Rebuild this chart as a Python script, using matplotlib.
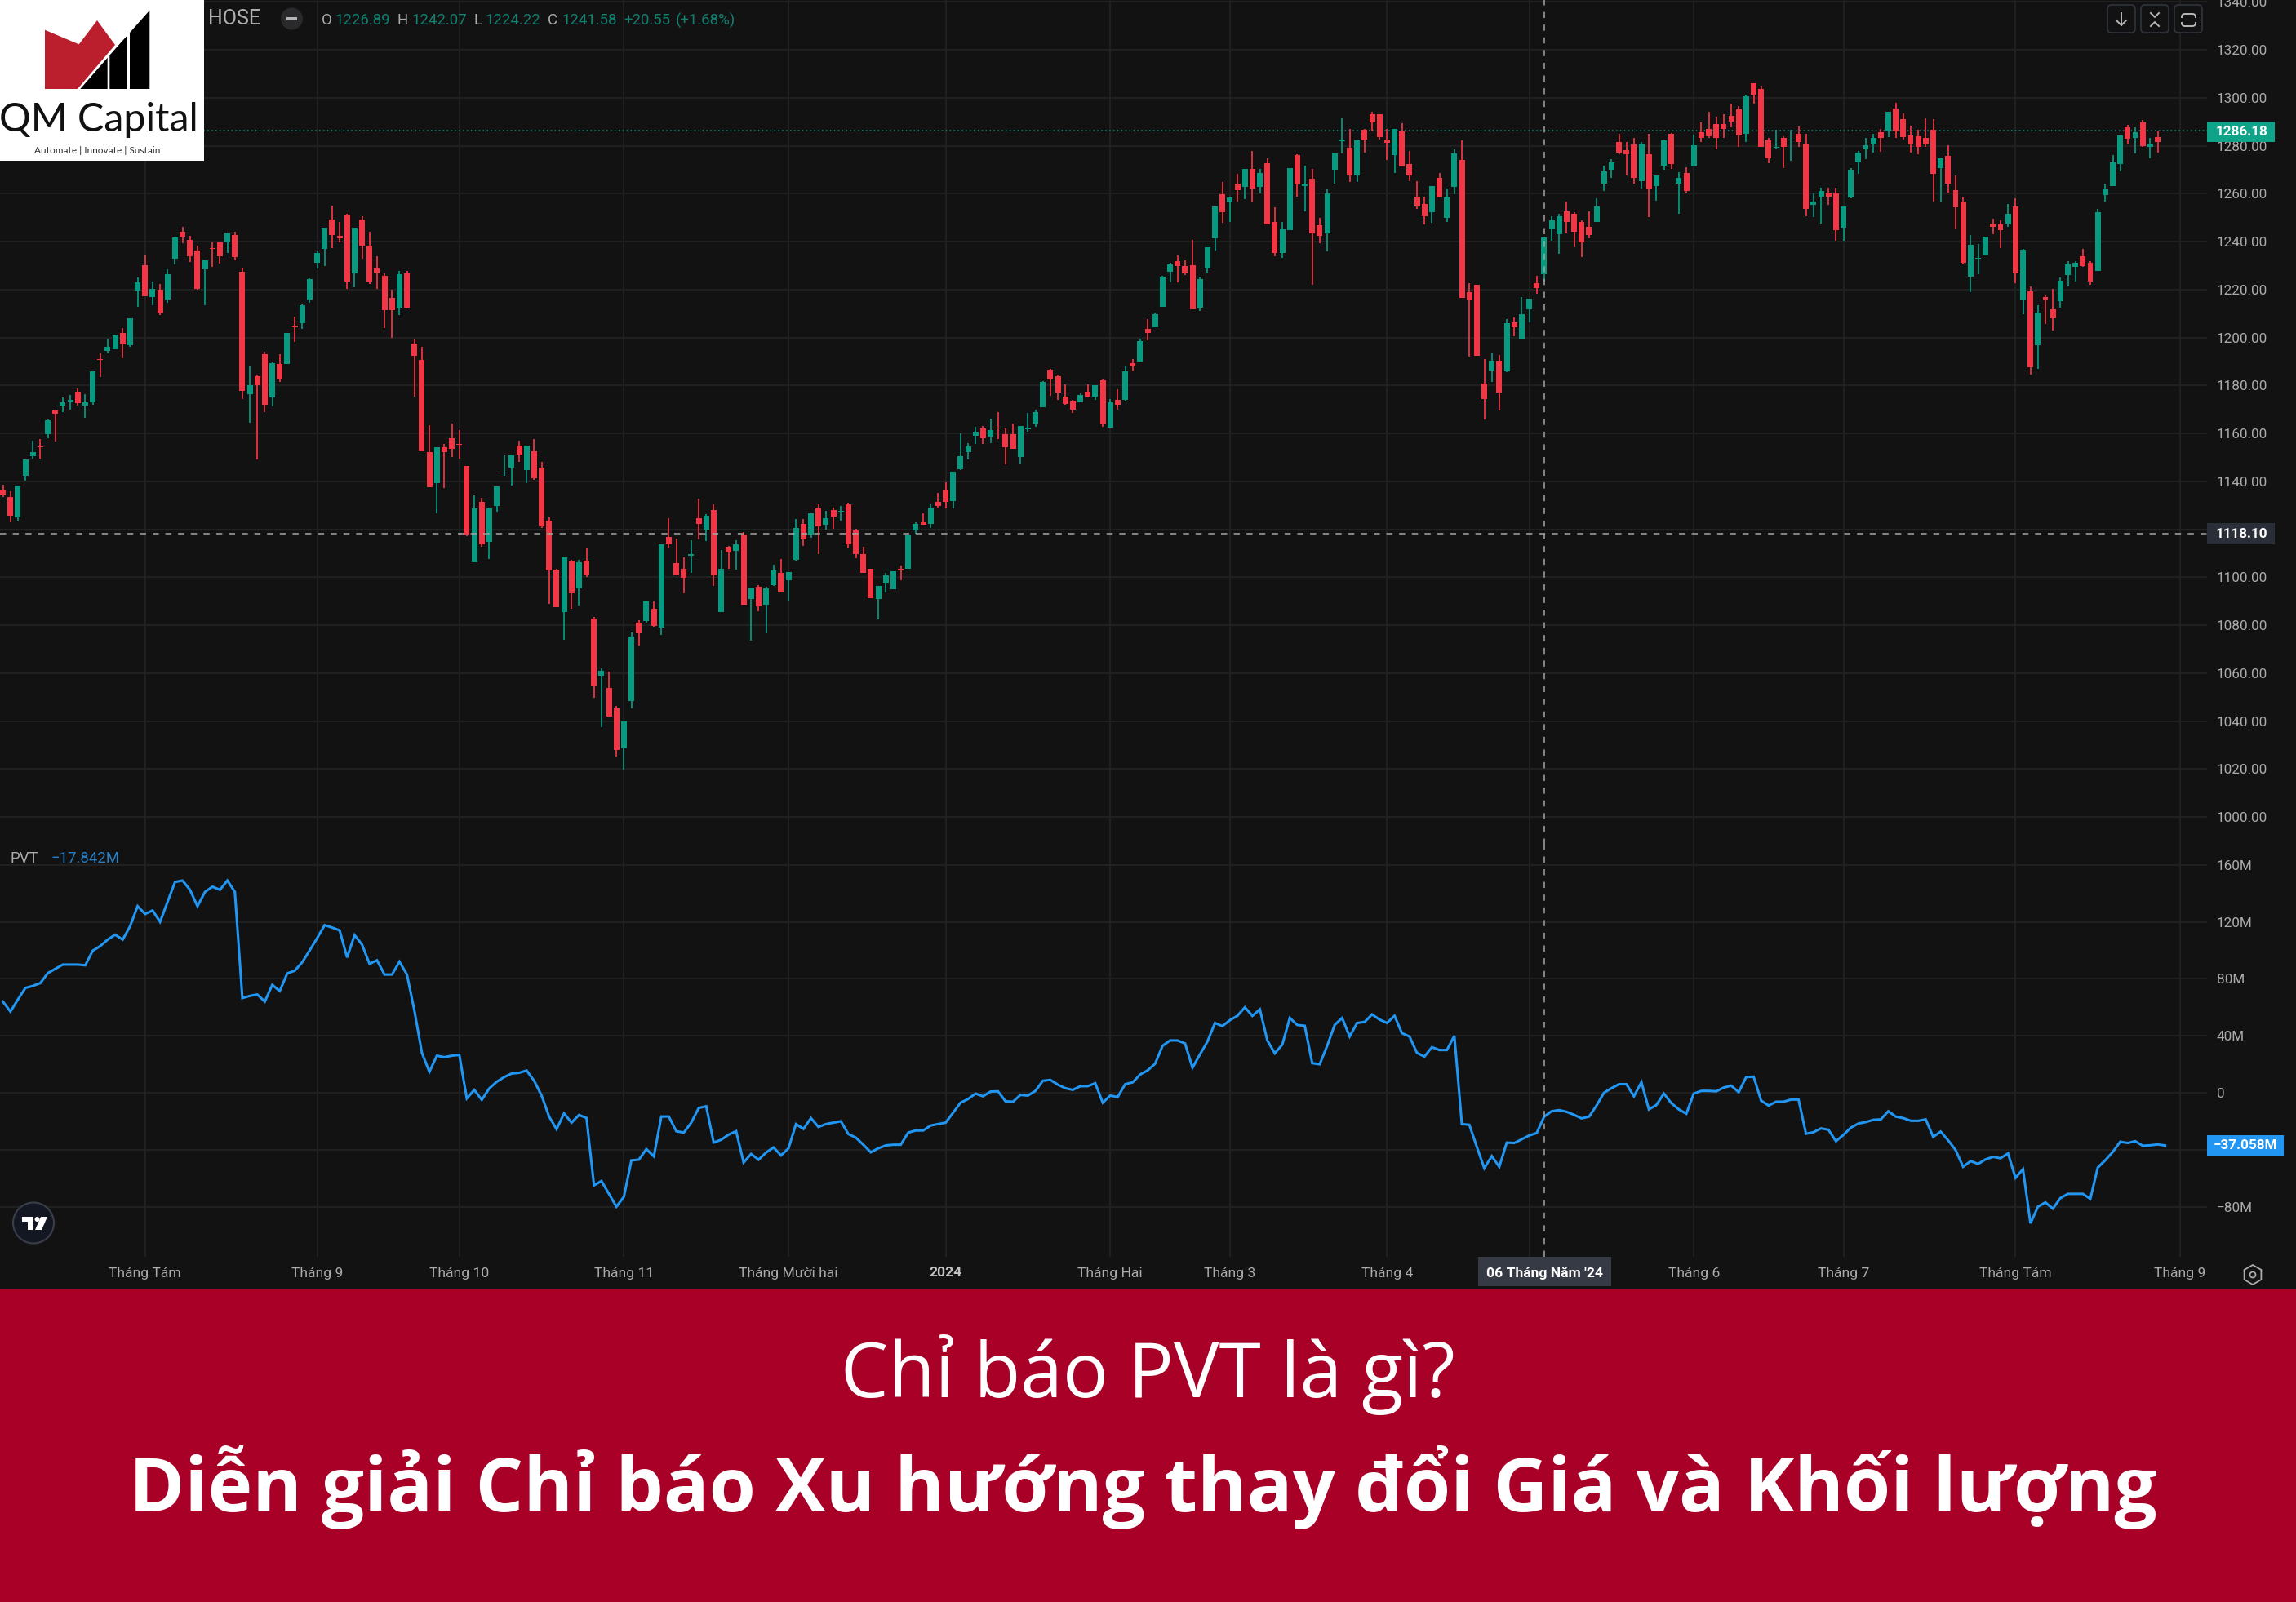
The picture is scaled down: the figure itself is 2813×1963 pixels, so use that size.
import numpy as np
import matplotlib
matplotlib.use('Agg')
import matplotlib.pyplot as plt
from matplotlib.patches import Circle, FancyBboxPatch, Polygon, Rectangle, RegularPolygon

# candles, one value per session
opens = [1136.5,1133.6,1124.9,1142.3,1150.5,1154.6,1159.7,1169.5,1171.6,1173.1,
         1177.5,1171.6,1173.1,1191,1194.4,1195,1201.9,1196.9,1219.5,1230.3,
         1217,1219.9,1215.9,1232.9,1244.2,1240.8,1236.3,1228.5,1237.3,1239.8,
         1239.8,1242.7,1227.3,1176.5,1183.9,1193,1175,1188.9,1189,1204.9,
         1206,1215.9,1231.3,1236.8,1249.2,1242.3,1250.8,1226.9,1249.2,1238.3,
         1228.9,1225.8,1216.4,1212.5,1226.7,1197.5,1190.5,1152.1,1139.3,1154.1,
         1158.1,1155.6,1146.3,1106.4,1131.6,1114.8,1129.8,1143.2,1145.7,1155.1,
         1144.7,1152.6,1145.6,1123.7,1103.3,1085.4,1106.8,1095.4,1106.8,1082.8,
         1058.9,1053.9,1045.5,1028.6,1048.5,1081.2,1081.8,1086.8,1079,1116.8,
         1105.8,1103.7,1108.9,1124.7,1119.8,1128.1,1085.4,1112.7,1111,1117.8,
         1090.9,1095.9,1088.4,1096.8,1101.8,1098.9,1107.3,1122.1,1117.8,1128.7,
         1121.8,1128.1,1127.3,1130.3,1119.7,1109.7,1103.7,1090.9,1097.9,1094.9,
         1103.4,1103.7,1119.7,1123.1,1122.2,1131.6,1136.6,1131.7,1145,1152.2,
         1159.1,1162.1,1158.7,1162.5,1159.6,1159.6,1150.1,1161.6,1164.1,1171,
         1186.5,1183.8,1175.4,1173.5,1173,1177.4,1175.4,1182,1162.5,1174,
         1174,1189.4,1190,1203.5,1204.4,1212.9,1227.3,1231.9,1229.7,1230.3,
         1212.3,1228.8,1241.4,1259.8,1256.4,1264.2,1262.7,1270.2,1262.7,1272.7,
         1248.3,1235.3,1244.8,1276.2,1263.3,1266.1,1246.7,1243.3,1269.8,1281.8,
         1279.2,1267.7,1286.6,1293.2,1293.2,1282.7,1276.2,1285.8,1272.2,1258.8,
         1255.8,1252.3,1266.7,1249.8,1262.7,1274.2,1218.8,1221.9,1180.9,1186.3,
         1190.3,1185.8,1206.2,1199.3,1211.9,1222.7,1226.3,1245.3,1243.2,1252.6,
         1251.7,1248.2,1246.2,1248.2,1264.2,1270.1,1281.6,1278.1,1280.6,1265.2,
         1276.6,1263.2,1271.7,1285.1,1264.2,1268.6,1271.2,1285.6,1287,1289.1,
         1289.1,1292.5,1295.1,1284.8,1306,1303.5,1282.1,1279.1,1283.1,1282.1,
         1285,1281,1255.2,1258.7,1260.6,1260,1245.8,1258.4,1273.2,1278.6,
         1280.7,1285.6,1285.9,1295.5,1291.1,1284.4,1284,1283.1,1286.6,1270.7,
         1275.6,1261.6,1256.6,1225.4,1232.8,1234.7,1247.6,1247.1,1247.1,1254.7,
         1215.4,1219.3,1196.9,1216.9,1211.9,1215.1,1226,1229.5,1233.8,1231,
         1227.9,1259.4,1263.3,1272.3,1287.8,1283.4,1289.8,1279.4,1283.7,1285.9]

closes = [1134.2,1125.8,1138.2,1149.1,1152.1,1154.2,1165.5,1168.1,1173,1174,
          1172.5,1173,1185.9,1190.6,1196,1200.9,1197,1207.9,1222.9,1217.3,
          1220.4,1210.4,1226.4,1241.8,1241.9,1234,1220.3,1232.3,1236.8,1233.9,
          1243.3,1233.4,1177.6,1180,1180,1172,1189.4,1183,1201.9,1204.4,
          1213.4,1224.4,1235.4,1245.7,1242.7,1241.4,1223.3,1245.7,1238.3,1223.2,
          1226.9,1211.4,1211.4,1226.4,1212.5,1192.5,1152.7,1137.7,1154.1,1152.1,
          1153.7,1155.2,1117.8,1128.7,1113.8,1128.7,1137.8,1143.7,1151,1151.2,
          1155.1,1141.2,1121.3,1102.8,1087.4,1108.2,1093.4,1106.2,1101.3,1055,
          1061,1042,1028.1,1040,1075.3,1076.5,1089.9,1079.8,1113.8,1113.8,
          1101.3,1099.9,1109.6,1122.3,1125.7,1100.9,1103.7,1110.4,1113.7,1088.4,
          1095.8,1087.8,1095.3,1102.7,1093.8,1102.3,1120.7,1115.7,1126.6,1121.3,
          1124.7,1125.3,1127.6,1113.8,1109.8,1101.9,1091.3,1096.3,1100.8,1102.6,
          1102.9,1117.8,1122.1,1121.8,1129.2,1129.8,1131.3,1144.1,1150.6,1154.7,
          1160.7,1158.1,1161.5,1162.1,1154.1,1153.6,1163.1,1162.4,1169,1181.5,
          1182.5,1177,1172.4,1170,1176,1175.4,1180,1163.9,1173,1172,
          1185.9,1187.9,1198.5,1201.9,1209.8,1225.5,1230.4,1229.8,1226.6,1211.9,
          1224.4,1237.8,1254.8,1252.3,1258.3,1261.3,1270.2,1262.3,1268.7,1247,
          1235.3,1245.3,1270.8,1263.8,1263.8,1243.3,1242.3,1260.2,1276.7,1282.3,
          1267.7,1282.3,1282.7,1289.7,1283.7,1281.2,1287.1,1271.2,1267.7,1254.8,
          1250.4,1263.3,1258.3,1258.3,1276.7,1216.4,1215.4,1192.5,1174.4,1190.3,
          1176.9,1205.9,1204.4,1209.7,1216.3,1220.7,1241.8,1248.7,1250.7,1248.2,
          1244.2,1239.7,1242.8,1254.7,1269.2,1273.1,1277,1276.6,1266.7,1281,
          1261.7,1267.5,1282.1,1272.2,1266.6,1261.1,1280.1,1283.2,1284,1283.1,
          1287.1,1290.2,1284.2,1300.6,1301.2,1279.6,1274.7,1279.5,1279.6,1282.6,
          1281.6,1253.8,1256.6,1261.1,1258.7,1244.8,1254.7,1270.1,1277,1280.1,
          1283.1,1283.1,1294.1,1285.9,1283.6,1280.6,1279.6,1280.6,1268.2,1274.7,
          1264.2,1254.2,1231.2,1238.7,1233.2,1242.2,1246,1244.8,1251.6,1226.8,
          1236.6,1187.6,1210.3,1215.6,1208.1,1223.8,1230.4,1231,1229.7,1223.3,
          1252.3,1261.8,1272.9,1284.3,1282.8,1285.6,1279.7,1280.7,1281.4,1286.18]

highs = [1138.5,1136,1138.2,1149.3,1157,1157.6,1165.7,1169.9,1175,1175.9,
         1178.6,1176.5,1185.9,1193.5,1199.5,1201.2,1204,1207.9,1224.9,1234.7,
         1223.5,1222.4,1228.3,1241.8,1246.3,1242.3,1238.3,1232.3,1239.8,1239.8,
         1243.8,1244.2,1229.2,1188.4,1184.2,1194,1189.8,1193,1201.9,1208.8,
         1213.7,1224.7,1236.3,1245.7,1255.1,1248.3,1251.6,1245.7,1250.7,1244.2,
         1233.8,1226.6,1219.8,1227.8,1227.8,1199.3,1196,1163.5,1154.1,1155.5,
         1164,1161.5,1146.5,1134.2,1133.1,1128.9,1137.8,1150.7,1151,1157.1,
         1155.1,1157.6,1148.2,1125,1103.6,1108.2,1107.3,1107.3,1111.9,1083.3,
         1061.9,1060.5,1046.5,1040,1076.9,1082.1,1089.9,1090,1113.8,1124.7,
         1116.2,1108.2,1115.6,1132.7,1126.2,1130.3,1111.2,1113,1115.6,1118.7,
         1095.8,1096.8,1095.9,1105.3,1107.7,1102.3,1124.3,1124.3,1126.6,1130.3,
         1127.8,1129.2,1129.7,1131.2,1120.2,1112.7,1103.7,1096.3,1101.7,1102.6,
         1104.8,1117.8,1123,1126.7,1130.8,1135.1,1139.7,1144.1,1160,1156.1,
         1162.6,1163.1,1166,1169,1162.2,1164,1163.1,1168.5,1170,1181.7,
         1186.9,1184.4,1180.4,1174,1176.8,1180.4,1180,1182.6,1174.4,1178.5,
         1188.3,1191,1199.4,1207.8,1210.3,1225.8,1231,1234.4,1232.3,1240.7,
         1225.4,1237.8,1254.8,1264.7,1258.8,1268.2,1270.2,1277.7,1270.2,1274.8,
         1254.2,1248.3,1270.8,1276.6,1271.7,1270.2,1249.8,1261.7,1276.7,1291.7,
         1287,1282.7,1287.1,1294.2,1293.2,1287.1,1287.1,1289.2,1277.7,1265.2,
         1258.8,1263.3,1268.7,1262.2,1278.6,1282.3,1222.8,1221.9,1190.9,1193.8,
         1192.8,1207.7,1208.4,1216.9,1216.3,1225.7,1242,1250.7,1251.5,1256.6,
         1252.1,1249,1252.7,1258.1,1271.5,1274.5,1285.1,1281.6,1283.1,1281.4,
         1285.1,1267.5,1282.1,1285.3,1269.1,1271,1284.5,1289.6,1294.1,1292.1,
         1293,1297.6,1296.4,1301.4,1306,1305.1,1283.1,1286.7,1284,1286.5,
         1288,1285.1,1260.1,1262.6,1262.6,1262.6,1254.7,1270.5,1277.9,1283.1,
         1285.1,1286.9,1294.1,1298,1293.5,1288.5,1286.5,1291.5,1291.1,1275.1,
         1280.1,1267.6,1258.5,1242.7,1238.9,1242.2,1249.7,1248.7,1255.6,1258.1,
         1236.9,1221.3,1213.4,1217.9,1220.4,1225.1,1231.8,1231.8,1236.9,1231.9,
         1253.7,1264.3,1276.2,1284.3,1288.7,1287.8,1290.8,1283.2,1286.3,1286.3]

lows = [1133.6,1122.9,1123.4,1140.2,1149.6,1149.6,1158.1,1156.7,1169,1169.9,
        1171.5,1166.5,1172,1183.5,1193.5,1195,1191.5,1196,1212.8,1217.3,
        1213.4,1209.4,1214.5,1230.4,1239.5,1231.5,1219.9,1213.4,1229.5,1230.7,
        1235.3,1232.3,1174.5,1164.6,1149.3,1169,1171.4,1181.5,1189,1198.1,
        1203.5,1214.4,1228.9,1229.8,1237.2,1239.8,1220.4,1221,1233,1222.2,
        1220.4,1204,1199.9,1209.4,1212.1,1175.2,1152.7,1137.7,1126.8,1137.2,
        1150.2,1149.6,1117.3,1106.4,1112.8,1107.7,1127.2,1142.2,1138.2,1148.2,
        1139.2,1140.8,1120.4,1089,1087.4,1073.9,1086.9,1088.3,1100.3,1049.9,
        1037.5,1042,1025.1,1019.9,1045.5,1071.4,1081.2,1079.4,1075.8,1112.3,
        1100.8,1093.4,1101.9,1115.7,1115.2,1096.3,1085.4,1103.7,1103.1,1088.4,
        1073.5,1086,1076.5,1096.3,1093.7,1090.3,1106.8,1113.2,1116.4,1109.7,
        1119.8,1120.3,1123.7,1112.2,1107.9,1101.9,1091.3,1082.4,1093.7,1094.9,
        1098.7,1103.7,1118.1,1121.8,1120.7,1129.2,1128.7,1128.7,1144.6,1149.1,
        1155.7,1155.5,1156,1157.6,1147.2,1153.6,1147.6,1160.6,1162.6,1171,
        1175.6,1174,1171.9,1168.4,1173,1175,1174,1162.8,1162.5,1169.9,
        1173.5,1185.9,1190,1198.9,1204.4,1212.9,1222.9,1222.9,1226.2,1211.9,
        1211,1226.9,1236.4,1247.9,1248.3,1256.7,1257.7,1256.4,1260.2,1247,
        1233.9,1233.3,1244.8,1258.8,1252.7,1222,1239.4,1235.8,1264.2,1276.8,
        1264.8,1264.8,1277.1,1285.9,1282.7,1274.2,1268.7,1271.2,1265.2,1253.8,
        1247.3,1247.8,1258.3,1248.3,1259.8,1216.4,1192,1192.5,1165.9,1181.5,
        1169.5,1185.4,1200.4,1199.1,1206.4,1218.2,1223.3,1240.2,1234.8,1243.3,
        1237.7,1233.7,1241.3,1248.2,1261,1266.6,1276.6,1267.7,1264.2,1262.1,
        1250.1,1257.2,1269.8,1270.2,1251.6,1260.1,1271.2,1281.5,1283.1,1278.6,
        1283.1,1287.6,1279.6,1281.6,1297.6,1279.6,1272.6,1278.7,1270.6,1273.7,
        1279.6,1250.7,1250.1,1247.6,1255.2,1240.2,1240.2,1258.1,1268.1,1274.5,
        1277,1277.6,1283.6,1283.1,1282.5,1277,1276.6,1279.6,1256.7,1256.2,
        1260.6,1245.3,1230.6,1218.8,1226.3,1234.2,1243.1,1237.2,1246.2,1222.7,
        1209.8,1184.5,1187,1205.5,1202.8,1212.5,1221.3,1223.4,1229.5,1221.9,
        1227.9,1256.8,1263.3,1269.4,1280.7,1276.7,1279.5,1274.8,1277.2,1286]

# price volume trend, in millions
pvt = [64,57,65.5,73.6,75,77,84,87,90,90,
       90,89.5,99.7,103,107.5,111,107.5,117,131,125.5,
       128,120,134,148,149,142.5,131,141,144.7,142.5,
       149,141,66.5,68,69,64,75.7,71.4,83.8,85.7,
       91.6,100,108.6,117.7,116,114,95,110.7,104,90.5,
       93,83,83,92,83,57.6,28,14.7,26,25,
       26,26.6,-4,2,-5,3,7.7,11,13.5,14,
       15.6,8.4,-2,-16.7,-25.6,-14.5,-21,-15.6,-17.7,-65,
       -62,-71,-80,-73,-47.5,-47,-39.6,-44.7,-16.7,-16.7,
       -27,-28,-21,-10.7,-9.5,-35,-33,-29.4,-27,-49,
       -43,-47,-42,-38.4,-44,-39,-22,-25.4,-17.8,-24,
       -22,-21,-20,-29,-31.5,-36.5,-41.8,-39,-37,-36.5,
       -36.5,-28,-26.5,-26.5,-23,-22,-21,-14,-7,-4.4,
       -0.6,-2.5,0.8,1,-6,-6.3,-1.5,-2,1.3,8.4,
       9,5.7,3.2,2,4.6,4.6,6.7,-7,-2,-3,
       6,7.3,12.8,15.7,20.4,33,36.7,36.7,34.6,17.6,
       27,36,49,46.8,51,54,60,54,58.6,36.7,
       27.7,33.8,52.5,47.6,47,20.8,20,33,47.6,52.5,
       39.5,49,49.7,55,51.4,49,54,41.8,39.5,28,
       25.4,32,30,30,40,-22,-22.5,-38,-53,-44.5,
       -52,-35,-35.3,-32.7,-30,-28.3,-16.8,-13,-12.2,-13.4,
       -15.5,-18,-16.8,-9,0,3.2,6,6,-2.5,7.4,
       -11.7,-8.6,-0.6,-7.3,-11.7,-14.7,-0.6,1.3,1.3,1,
       3.6,5,0.4,11,11.3,-5.5,-9,-6.3,-6.3,-4.8,
       -4.8,-28.8,-27.7,-25,-26,-34,-29.6,-24.5,-21.6,-20.6,
       -19,-18.7,-13,-16.8,-17.8,-19.7,-19.7,-18.7,-31,-27.3,
       -33.4,-40.3,-52,-48,-50,-46.8,-45,-46,-42.6,-59.8,
       -53.7,-91.7,-80,-77,-81.4,-74,-71,-71,-71,-74.5,
       -52.5,-47.4,-41.6,-34.4,-35.3,-34,-37.2,-36.9,-36.3,-37.06]

month_bars = [19, 42, 61, 83, 105, 126, 148, 164, 185, 204, 226, 246, 269, 291]
month_labels = ['Tháng Tám', 'Tháng 9', 'Tháng 10', 'Tháng 11', 'Tháng Mười hai', '2024', 'Tháng Hai',
                'Tháng 3', 'Tháng 4', '', 'Tháng 6', 'Tháng 7', 'Tháng Tám', 'Tháng 9']
price_ticks = list(range(1000, 1341, 20))
pvt_ticks = [160, 120, 80, 40, 0, -40, -80]
# the -40M label sits behind the last value box
pvt_tick_labels = ['160M', '120M', '80M', '40M', '0', '', '\u221280M']

last_price = 1286.18
cross_price = 1118.10
cross_bar = 206

BG = '#121212'
GRID = '#222222'
GREEN = '#089981'
RED = '#F23645'
BLUE = '#2196F3'
TEXT = '#ABABAB'
W, H = 2813, 1963

plt.rcParams['font.family'] = ['Roboto', 'DejaVu Sans']

fig = plt.figure(figsize=(W / 100, H / 100), dpi=100, facecolor=BG)


def pane(left, top, right, bottom):
    return fig.add_axes([left / W, 1 - bottom / H, (right - left) / W, (bottom - top) / H], facecolor=BG)


ax = pane(0, 0, 2704, 1035)
ax2 = pane(0, 1035, 2704, 1540)

x = np.arange(len(opens))
o = np.array(opens)
c = np.array(closes)
colors = np.where(c >= o, GREEN, RED)

ax.vlines(x, lows, highs, colors=colors, linewidth=1.25, zorder=3)
ax.bar(x, np.maximum(np.abs(c - o), 0.3), bottom=np.minimum(o, c), width=0.76, color=colors, zorder=4)

ax.set_ylim(988.5, 1340.76)
ax.set_yticks(price_ticks)
ax.set_yticklabels(['%.2f' % p for p in price_ticks])
ax.axhline(last_price, color=GREEN, linestyle=(0, (1, 2.2)), linewidth=1.1, zorder=2)

ax2.plot(x, pvt, color=BLUE, linewidth=2.2, solid_joinstyle='miter', zorder=3)
ax2.set_ylim(-115.2, 174.2)
ax2.set_yticks(pvt_ticks)
ax2.set_yticklabels(pvt_tick_labels)

ax.set_xticks(month_bars)
ax.set_xticklabels([])
ax2.set_xticks(month_bars)
ax2.set_xticklabels(month_labels, fontsize=12.6, color=TEXT)
ax2.get_xticklabels()[5].set_fontweight('bold')
ax2.get_xticklabels()[5].set_color('#C4C4C4')

for a in (ax, ax2):
    a.set_xlim(-0.393, 294.6)
    a.grid(True, color=GRID, linewidth=1.3, zorder=0)
    a.set_axisbelow(True)
    a.yaxis.tick_right()
    a.tick_params(axis='both', length=0)
    a.tick_params(axis='y', labelsize=12.3, labelcolor=TEXT, pad=8.5)
    for lbl in a.get_yticklabels():
        lbl.set_horizontalalignment('left')
    for s in a.spines.values():
        s.set_visible(False)
    a.axvline(cross_bar, color='#A5A5A5', linestyle=(0, (4.9, 5.3)), linewidth=1.1, zorder=5)
ax2.tick_params(axis='x', pad=9)
ax.axhline(cross_price, color='#A5A5A5', linestyle=(0, (4.9, 5.3)), linewidth=1.1, zorder=5)

# everything drawn over the panes, in picture pixels
top = fig.add_axes([0, 0, 1, 1])
top.set_xlim(0, W)
top.set_ylim(H, 0)
top.axis('off')
top.patch.set_alpha(0)

# title band
top.add_patch(Rectangle((0, 1580), W, H - 1580, color='#A90028', lw=0))
top.text(1406, 1684, 'Chỉ báo PVT là gì?', family='Open Sans', fontsize=67, color='white', ha='center', va='center')
top.text(1400, 1823, 'Diễn giải Chỉ báo Xu hướng thay đổi Giá và Khối lượng', family='Open Sans',
         fontweight='bold', fontsize=66.5, color='white', ha='center', va='center')

# logo
top.add_patch(Rectangle((0, 0), 250, 197, color='white', lw=0, zorder=6))
top.add_patch(Polygon([(55, 36.7), (96.7, 54.3), (119, 25), (141, 55), (95, 109), (55, 109)], color='#BB1F2E', lw=0, zorder=7))
top.add_patch(Polygon([(98.3, 109), (131.7, 70.7), (131.7, 109)], color='black', lw=0, zorder=7))
top.add_patch(Polygon([(134.3, 67.7), (156, 43.3), (156, 109), (134.3, 109)], color='black', lw=0, zorder=7))
top.add_patch(Polygon([(159, 40), (183.3, 12.7), (183.3, 109), (159, 109)], color='black', lw=0, zorder=7))
top.text(120.5, 147, 'QM Capital', family='Lato', fontsize=34.8, color='#111111', ha='center', va='center', zorder=7)
top.text(119.5, 185, 'Automate | Innovate | Sustain', family='Lato', fontsize=8.6, color='#333333', ha='center', va='center', zorder=7)

# legend row
top.text(255, 23, 'HOSE', fontsize=18, color='#B0B0B0', va='center')
top.add_patch(Circle((357.5, 23), 13.5, color='#2A2A2C', lw=0))
top.add_patch(Rectangle((351, 21), 13, 4, color='#B5B5B5', lw=0))
OHLC_GREEN = '#10806F'
for xp, s, col in [(394, 'O', TEXT), (411, '1226.89', OHLC_GREEN), (487, 'H', TEXT), (504, '1242.07', OHLC_GREEN),
                   (581, 'L', TEXT), (594, '1224.22', OHLC_GREEN), (671, 'C', TEXT), (688, '1241.58', OHLC_GREEN),
                   (764, '+20.55', OHLC_GREEN), (828, '(+1.68%)', OHLC_GREEN)]:
    top.text(xp, 25, s, fontsize=13.4, color=col, va='center')
top.text(12, 1052, 'PVT', fontsize=13.4, color=TEXT, va='center')
top.text(62, 1052, '\u221217.842M', fontsize=13.4, color='#2A7FC4', va='center')

# last value boxes on the scales
top.add_patch(Rectangle((2704, 149), 83, 25, color='#0FA38A', lw=0))
top.text(2746, 162, '1286.18', fontsize=12.3, color='white', fontweight='bold', ha='center', va='center')
top.add_patch(Rectangle((2704, 641), 83, 26, color='#2A2E39', lw=0))
top.text(2746, 654.5, '1118.10', fontsize=12.3, color='white', fontweight='bold', ha='center', va='center')
top.add_patch(Rectangle((2704, 1391), 94, 25, color='#2196F3', lw=0))
top.text(2751, 1404, '\u221237.058M', fontsize=12.3, color='white', fontweight='bold', ha='center', va='center')
top.add_patch(Rectangle((1811, 1540), 163, 36, color='#363A45', lw=0))
top.text(1892.5, 1561, "06 Tháng Năm '24", fontsize=12.6, color='white', fontweight='bold', ha='center', va='center')

# buttons, top right
for left in (2582, 2623, 2664):
    top.add_patch(FancyBboxPatch((left + 3, 9), 28, 28, boxstyle='round,pad=3,rounding_size=5', fc=BG, ec='#30343D', lw=1.2))
top.plot([2599, 2599], [16, 31], color='#B8B8B8', lw=1.4)
top.plot([2593, 2599, 2605], [25, 31, 25], color='#B8B8B8', lw=1.4)
top.plot([2635, 2640, 2645], [16, 21, 16], color='#B8B8B8', lw=1.4)
top.plot([2635, 2640, 2645], [32, 27, 32], color='#B8B8B8', lw=1.4)
top.add_patch(FancyBboxPatch((2675, 19), 13, 11, boxstyle='round,pad=2,rounding_size=4', fc='none', ec='#B8B8B8', lw=1.4))
top.add_patch(Rectangle((2671, 22), 4, 5, color=BG, lw=0, zorder=3))
top.add_patch(Rectangle((2688, 22), 4, 5, color=BG, lw=0, zorder=3))

# TradingView badge and settings icon
top.add_patch(Circle((41, 1498.5), 25, fc='#131722', ec='#3A3E4A', lw=1.5))
top.add_patch(Polygon([(27, 1491), (41, 1491), (41, 1507), (34, 1507), (34, 1497), (27, 1497)], color='white', lw=0))
top.add_patch(Circle((45.5, 1494), 3, color='white', lw=0))
top.add_patch(Polygon([(50, 1491), (58, 1491), (51, 1507), (43, 1507)], color='white', lw=0))
top.add_patch(RegularPolygon((2760, 1562), 6, radius=12, fc='none', ec=TEXT, lw=1.3))
top.add_patch(Circle((2760, 1562), 3.5, fc='none', ec=TEXT, lw=1.3))

plt.savefig('out.png', dpi=100, facecolor=BG)
